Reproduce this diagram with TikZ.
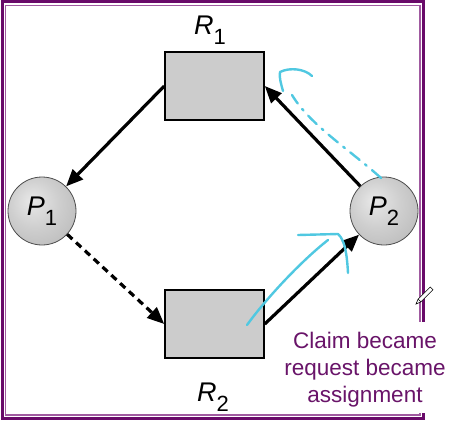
\documentclass[tikz,border=0pt]{standalone}
\usepackage{fontspec}
\setmainfont{Liberation Sans}
\usetikzlibrary{arrows.meta}
\definecolor{framedark}{RGB}{105,10,105}
\definecolor{framelight}{RGB}{160,90,160}
\definecolor{inkcyan}{RGB}{80,200,225}
\definecolor{notecol}{RGB}{105,20,105}
\definecolor{boxgray}{RGB}{204,204,204}
\pgfdeclareradialshading{procball}{\pgfpoint{-8bp}{8bp}}{%
  color(0bp)=(white!82!gray); color(18bp)=(white!62!gray); color(40bp)=(white!42!gray); color(62bp)=(white!30!gray)}
\newcommand\reslabel[2]{{\fontsize{27}{27}\selectfont\textit{#1}\raisebox{-10pt}{\fontsize{22}{22}\selectfont #2}}}
\tikzset{
  resbox/.style={draw=black, line width=1.5pt, fill=boxgray, minimum width=99pt, minimum height=68pt, inner sep=0pt},
  procnode/.style={circle, draw=black!70, line width=0.8pt, shading=procball, minimum size=68pt, inner sep=0pt},
  edgearrow/.style={line width=3.2pt, -{Triangle[length=17pt,width=14pt]}},
  claimarrow/.style={edgearrow, dash pattern=on 7pt off 5pt},
  inkstroke/.style={draw=inkcyan, line width=2.4pt, line cap=round, line join=round},
  lbl/.style={inner sep=0pt}
}
\begin{document}
\begin{tikzpicture}[x=1pt,y=-1pt]
\useasboundingbox (0,0) rectangle (449,420);
% frame
\draw[framedark, line width=3pt] (2,1.8) rectangle (423.3,418.5);
\draw[framelight, line width=1.3pt] (5.8,5.6) rectangle (420,415);
% resources and processes
\node[resbox] (R1) at (214.5,86) {};
\node[resbox] (R2) at (214.5,324) {};
\node[procnode] (P1) at (42,211) {\reslabel{P}{1}};
\node[procnode] (P2) at (384,211) {\reslabel{P}{2}};
\node[lbl] (R1lab) at (210,30) {\reslabel{R}{1}};
\node[lbl] (R2lab) at (213,397) {\reslabel{R}{2}};
% edges
\draw[edgearrow] (R1.west) -- (P1);
\draw[claimarrow] (P1) -- (R2.west);
\draw[edgearrow] (R2.east) -- (P2);
\draw[edgearrow] (P2) -- (R1.east);
% cyan ink annotations
\coordinate (inkA) at (381,178);
\coordinate (inkB) at (292,95);
\draw[inkstroke, dash pattern=on 12pt off 7pt on 2pt off 7pt] (inkA) .. controls (350,150) and (310,125) .. (inkB);
\draw[inkstroke] (283,91) .. controls (281,84) and (279,77) .. (280,72) .. controls (290,67) and (305,69) .. (312,76);
\coordinate (inkC) at (247,325);
\coordinate (inkD) at (328,240);
\draw[inkstroke] (inkC) .. controls (265,300) and (300,262) .. (inkD);
\draw[inkstroke] (298,235) -- (338,234) .. controls (345,240) and (347,255) .. (348,273);
% pencil cursor
\draw[fill=white, line width=0.6pt] (416,304) -- (420.9,301.9) -- (433,289.8) -- (430.2,287) -- (418.1,299.1) -- cycle;
\draw[line width=0.6pt] (418.1,299.1) -- (420.9,301.9);
% note
\fill[white] (281,322) rectangle (449,413);
\node[align=center, text=notecol, font=\fontsize{22.5}{27}\selectfont, inner sep=0pt] (note) at (365,370) {Claim became\\request became\\assignment};
\end{tikzpicture}
\end{document}
